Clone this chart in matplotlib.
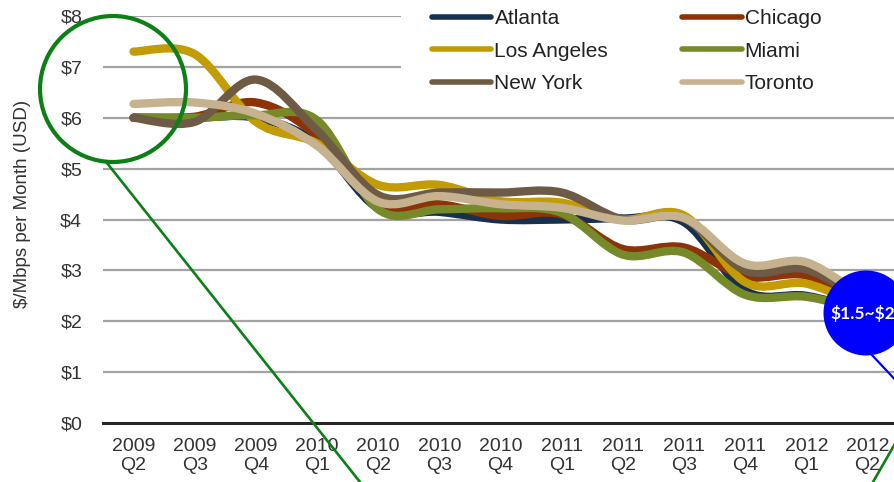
import numpy as np
import matplotlib
matplotlib.use('Agg')
import matplotlib.pyplot as plt
from matplotlib.path import Path
from matplotlib.patches import PathPatch, Circle, Rectangle
from matplotlib.lines import Line2D

plt.rcParams['font.family'] = ['Liberation Sans', 'DejaVu Sans']

# quarterly price of transit, $/Mbps per month
quarters = ['2009\nQ2', '2009\nQ3', '2009\nQ4', '2010\nQ1', '2010\nQ2', '2010\nQ3', '2010\nQ4',
            '2011\nQ1', '2011\nQ2', '2011\nQ3', '2011\nQ4', '2012\nQ1', '2012\nQ2']
atlanta = [6.0, 6.0, 6.0, 5.5, 4.22, 4.15, 4.0, 4.0, 4.02, 3.95, 2.6, 2.5, 2.2]
chicago = [6.0, 6.02, 6.3, 5.65, 4.3, 4.3, 4.07, 4.1, 3.42, 3.45, 2.88, 2.9, 2.3]
los_angeles = [7.3, 7.25, 5.92, 5.5, 4.68, 4.68, 4.36, 4.33, 4.0, 4.08, 2.77, 2.74, 2.25]
miami = [6.0, 6.0, 6.05, 5.95, 4.2, 4.2, 4.22, 4.13, 3.31, 3.35, 2.52, 2.48, 2.2]
new_york = [6.0, 5.92, 6.75, 5.75, 4.48, 4.53, 4.53, 4.53, 4.0, 4.02, 3.0, 3.02, 2.35]
toronto = [6.27, 6.3, 6.08, 5.45, 4.35, 4.46, 4.3, 4.23, 3.98, 4.03, 3.13, 3.16, 2.4]

cities = ['Atlanta', 'Chicago', 'Los Angeles', 'Miami', 'New York', 'Toronto']
series = [atlanta, chicago, los_angeles, miami, new_york, toronto]
colors = ['#16304e', '#8c3307', '#c39b02', '#768a2a', '#6e5b45', '#c6b28f']

W, H = 895, 482


def smooth_path(xs, ys):
    # catmull-rom through the points, as cubic bezier segments
    pts = np.column_stack([xs, ys]).astype(float)
    ext = np.vstack([pts[0], pts, pts[-1]])
    verts = [pts[0]]
    codes = [Path.MOVETO]
    for i in range(len(pts) - 1):
        p0, p1, p2, p3 = ext[i], ext[i + 1], ext[i + 2], ext[i + 3]
        verts += [p1 + (p2 - p0) / 6, p2 - (p3 - p1) / 6, p2]
        codes += [Path.CURVE4] * 3
    return Path(verts, codes)


fig = plt.figure(figsize=(W / 100, H / 100), dpi=100)
ax = fig.add_axes([103 / W, 59 / H, 795 / W, 407 / H])

x = np.arange(len(quarters))
for vals, col in zip(series, colors):
    ax.add_patch(PathPatch(smooth_path(x, vals), fill=False, edgecolor=col, lw=6,
                           capstyle='round', joinstyle='round', zorder=3))

ax.set_xlim(-0.5, len(quarters) - 0.5)
ax.set_ylim(0, 8)
for s in ax.spines.values():
    s.set_visible(False)
for v in range(1, 9):
    ax.axhline(v, color='#a3a3a3', lw=1.6, zorder=1)
ax.axhline(0, color='#262626', lw=2.2, zorder=2, clip_on=False)

ax.set_xticks(x)
ax.set_xticklabels(quarters, fontsize=14, color='#333333', linespacing=1.1)
ax.set_yticks(range(0, 9))
ax.set_yticklabels(['$%d' % v for v in range(0, 9)], fontsize=14, color='#333333')
ax.tick_params(length=0)
ax.tick_params(axis='x', pad=11)
ax.tick_params(axis='y', pad=15)

fig.text(23 / W, 1 - 204 / H, '$/Mbps per Month (USD)', rotation=90, ha='center', va='center',
         fontsize=13.5, color='#333333')

# white area behind the legend hides the upper gridlines
ax.add_patch(Rectangle((401 / W, 1 - 100 / H), 1, 100 / H, transform=fig.transFigure,
                       facecolor='white', edgecolor='none', zorder=1.5, clip_on=False))

handles = [Line2D([], [], color=c, lw=4, solid_capstyle='round') for c in colors]
order = [0, 2, 4, 1, 3, 5]
leg = ax.legend([handles[i] for i in order], [cities[i] for i in order], ncol=2,
                loc='upper left', bbox_to_anchor=(432 / W, 1 - 9 / H), bbox_transform=fig.transFigure,
                fontsize=15, handlelength=2.85, handletextpad=0.15, columnspacing=3.55,
                labelspacing=0.65, borderpad=0, borderaxespad=0, frameon=False)
for t in leg.get_texts():
    t.set_color('#222222')

# callout shapes drawn over the chart in pixel space
ov = fig.add_axes([0, 0, 1, 1], facecolor='none')
ov.set_xlim(0, W)
ov.set_ylim(H, 0)
ov.axis('off')

green = '#0c7f17'
ov.add_patch(Circle((113, 89), 73, fill=False, edgecolor=green, lw=3))
ov.plot([107, 360], [163, 482], color=green, lw=1.9)
ov.plot([873, 900], [482, 435], color=green, lw=1.9)
ov.add_patch(Circle((866, 313), 42.5, facecolor='#0000fe', edgecolor='none'))
ov.plot([871, 902], [354, 387], color='#0000fe', lw=1.6)
ov.text(830, 314, r'\$1.5~\$2', color='white', fontsize=12.5, fontweight='bold',
        family=['Lato', 'DejaVu Sans'], ha='left', va='center')

fig.savefig('out.png', dpi=100)
